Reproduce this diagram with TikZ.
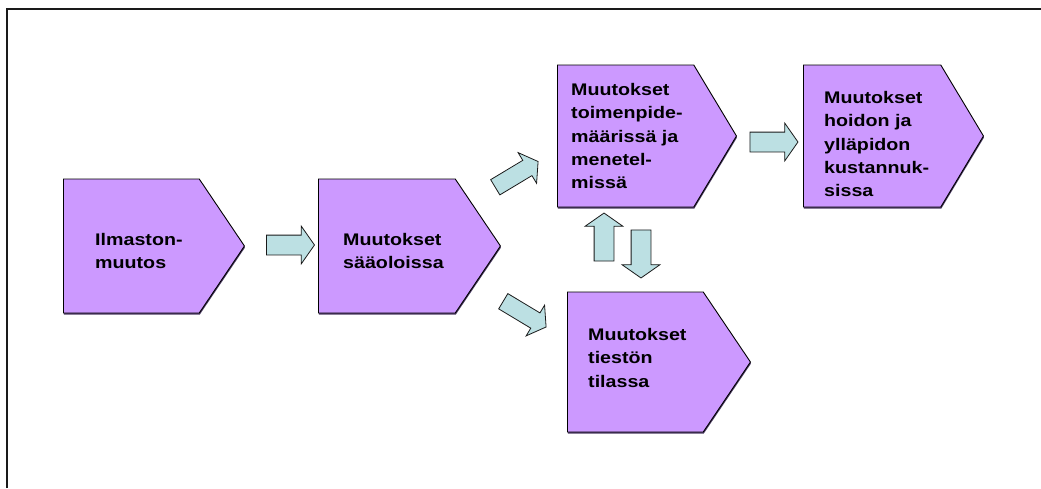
\documentclass[tikz,border=0pt]{standalone}
\usepackage{fontspec}
\newfontfamily\boxfont{Liberation Sans}[FakeStretch=1.17]
\usetikzlibrary{shapes.symbols,shapes.arrows,positioning,shadows}
\definecolor{Lilac}{HTML}{CC99FF}
\definecolor{LilacShade}{HTML}{4B3A63}
\definecolor{Aqua}{HTML}{BCE0E3}
\definecolor{Ink}{HTML}{1A1A1A}

\begin{document}
\begin{tikzpicture}[x=1pt,y=-1pt,
    stepbox/.style={signal,signal to=east,signal pointer angle=112,
      draw=black,line width=0.9pt,fill=Lilac,inner sep=0pt,anchor=west,
      minimum width=181pt,minimum height=134pt,
      drop shadow={shadow xshift=0.5pt,shadow yshift=-1.6pt,
        fill=LilacShade,opacity=1}},
    tallbox/.style={stepbox,signal pointer angle=118,
      minimum width=179pt,minimum height=142pt},
    boxtext/.style={anchor=north west,inner sep=0pt,align=left,
      font=\boxfont\bfseries\fontsize{16.8}{23.4}\selectfont},
    flow/.style={single arrow,draw=Ink,line width=0.8pt,fill=Aqua,
      minimum height=48pt,inner xsep=0pt,inner ysep=9.5pt,
      single arrow head extend=9pt,single arrow tip angle=110},
    slimflow/.style={flow,minimum height=50pt,inner ysep=8.5pt,
      single arrow head extend=9pt}]
  \useasboundingbox (0,0) rectangle (1041,488);
  \draw[Ink,line width=1.8pt] (7,488) -- (7,9) -- (1041,9);

  % the five stages
  \node[stepbox] (climate) at (63,246) {};
  \node[stepbox,minimum width=182pt] (weather) at (318,246) {};
  \node[tallbox] (measures) at (557,136) {};
  \node[tallbox,minimum width=180pt] (costs) at (803,136) {};
  \node[stepbox,minimum width=183pt,minimum height=140pt] (roads)
    at (567,362) {};

  \node[boxtext] (climate-text) at ([shift={(32,-13)}]climate.west)
    {Ilmaston-\\muutos};
  \node[boxtext] (weather-text) at ([shift={(25,-13)}]weather.west)
    {Muutokset\\sääoloissa};
  \node[boxtext] (measures-text) at ([shift={(14,-53)}]measures.west)
    {Muutokset\\toimenpide-\\määrissä ja\\menetel-\\missä};
  \node[boxtext] (costs-text) at ([shift={(21,-45)}]costs.west)
    {Muutokset\\hoidon ja\\ylläpidon\\kustannuk-\\sissa};
  \node[boxtext] (roads-text) at ([shift={(21,-34)}]roads.west)
    {Muutokset\\tiestön\\tilassa};

  % block arrows between the stages
  \node[flow] (climate-weather) at (287,245) {};
  \node[slimflow,rotate=31] (weather-measures) at (514,176) {};
  \node[slimflow,rotate=-31] (weather-roads) at (522,312.5) {};
  \node[flow,rotate=90] (roads-measures) at (604,240.5) {};
  \node[flow,rotate=-90] (measures-roads) at (641,250.5) {};
  \node[flow] (measures-costs) at (770.5,142) {};
\end{tikzpicture}
\end{document}
